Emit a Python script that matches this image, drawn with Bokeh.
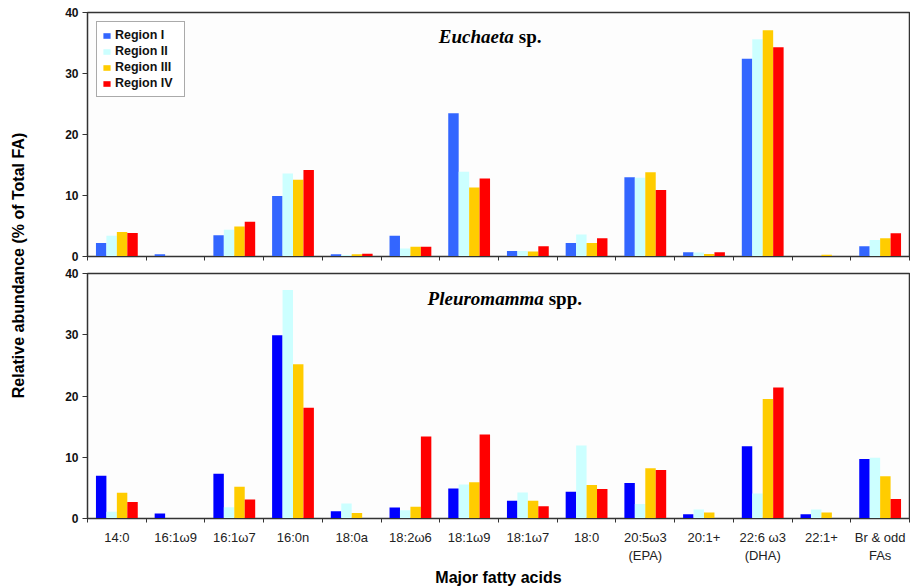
import math
import numpy as np
from bokeh.plotting import figure
from bokeh.layouts import row, column
from bokeh.models import (ColumnDataSource, Range1d, LinearAxis, FixedTicker, Label, Legend, LegendItem)
from bokeh.transform import dodge
from bokeh.embed import file_html
from bokeh.resources import INLINE

# ---------------- data ----------------
fatty_acids = ["14:0", "16:1\u03c99", "16:1\u03c97", "16:0n", "18:0a", "18:2\u03c96", "18:1\u03c99",
               "18:1\u03c97", "18:0", "20:5\u03c93\n(EPA)", "20:1+", "22:6 \u03c93\n(DHA)", "22:1+",
               "Br & odd\nFAs"]
regions = ["Region I", "Region II", "Region III", "Region IV"]

euch_r1 = [2.2, 0.35, 3.5, 9.9, 0.35, 3.4, 23.5, 0.9, 2.2, 13.0, 0.7, 32.4, 0.05, 1.7]
euch_r2 = [3.4, 0.05, 4.4, 13.6, 0.25, 1.3, 13.9, 0.9, 3.6, 12.9, 0.65, 35.6, 0.05, 2.7]
euch_r3 = [4.0, 0.08, 4.9, 12.6, 0.35, 1.6, 11.3, 0.8, 2.2, 13.8, 0.4, 37.1, 0.3, 3.0]
euch_r4 = [3.85, 0.08, 5.7, 14.2, 0.45, 1.6, 12.8, 1.7, 3.0, 10.9, 0.7, 34.3, 0.05, 3.8]

pleu_r1 = [7.0, 0.8, 7.3, 29.9, 1.2, 1.8, 4.9, 2.9, 4.35, 5.8, 0.7, 11.8, 0.7, 9.7]
pleu_r2 = [1.1, 0.0, 1.85, 37.3, 2.45, 1.35, 5.55, 4.25, 11.9, 2.35, 1.45, 4.1, 1.45, 9.9]
pleu_r3 = [4.2, 0.1, 5.2, 25.2, 0.9, 1.9, 5.9, 2.9, 5.45, 8.2, 1.0, 19.5, 1.0, 6.9]
pleu_r4 = [2.7, 0.1, 3.1, 18.1, 0.0, 13.4, 13.7, 2.0, 4.8, 7.9, 0.0, 21.4, 0.0, 3.2]

y_ticks = [0, 10, 20, 30, 40]

colors_top = ["#3366FF", "#CCFFFF", "#FFCC00", "#FF0000"]
colors_bot = ["#0000FF", "#CCFFFF", "#FFCC00", "#FF0000"]

FONT = "Liberation Sans"
SERIF = "Liberation Serif"
LEFT_W = 40
MAIN_W = 870
FRAME_LEFT = 47      # border left of frame inside main figure
BAR_W = 0.178
OFFS = [-0.267, -0.089, 0.089, 0.267]

N = len(fatty_acids)
centers = list(np.arange(N) + 0.5)
bounds = list(range(N + 1))


def make_panel(vals, colors, height, top_border, bottom_border, show_labels, title_a, title_b, title_split):
    src = ColumnDataSource(dict(xc=centers, r1=vals[0], r2=vals[1], r3=vals[2], r4=vals[3]))
    p = figure(x_range=Range1d(0, N), y_range=Range1d(0, 40),
               width=MAIN_W, height=height, output_backend="svg", toolbar_location=None,
               min_border_left=FRAME_LEFT, min_border_right=1,
               min_border_top=top_border, min_border_bottom=bottom_border,
               x_axis_location=None)
    renderers = []
    for k, key in enumerate(["r1", "r2", "r3", "r4"]):
        r = p.vbar(x=dodge("xc", OFFS[k]), top=key, bottom=0, width=BAR_W,
                   source=src, fill_color=colors[k], line_color=None)
        renderers.append(r)
    p.xgrid.visible = False
    p.ygrid.visible = False
    p.background_fill_color = "#FDFDFD"
    p.border_fill_color = "white"
    p.outline_line_color = "#333333"
    p.outline_line_width = 1.5

    yax = p.yaxis[0]
    yax.ticker = FixedTicker(ticks=y_ticks)
    yax.minor_tick_line_color = None
    yax.major_tick_out = 5
    yax.major_tick_in = 0
    yax.axis_line_color = "#333333"
    yax.major_tick_line_color = "#333333"
    yax.major_label_text_font = FONT
    yax.major_label_text_font_style = "bold"
    yax.major_label_text_font_size = "12px"
    yax.major_label_text_color = "#111111"
    yax.major_label_standoff = 4

    if show_labels:
        xax = LinearAxis(ticker=FixedTicker(ticks=centers, minor_ticks=bounds),
                         major_label_overrides={c: n for c, n in zip(centers, fatty_acids)})
        xax.major_label_text_font = FONT
        xax.major_label_text_font_size = "13px"
        xax.major_label_text_color = "#222222"
        xax.major_label_standoff = 7
        xax.axis_label = "Major fatty acids"
        xax.axis_label_text_font = FONT
        xax.axis_label_text_font_style = "bold"
        xax.axis_label_text_font_size = "16px"
        xax.axis_label_text_color = "black"
        xax.axis_label_standoff = 3
    else:
        xax = LinearAxis(ticker=FixedTicker(ticks=[], minor_ticks=bounds))
    xax.major_tick_line_color = None
    xax.major_tick_out = 0
    xax.major_tick_in = 0
    xax.minor_tick_out = 4
    xax.minor_tick_in = 0
    xax.minor_tick_line_color = "#333333"
    xax.axis_line_color = "#333333"
    p.add_layout(xax, "below")

    la = Label(x=title_split, y=36, text=title_a, text_align="right",
               text_baseline="alphabetic", text_font=SERIF, text_font_style="bold italic",
               text_font_size="19px", text_color="black")
    lb = Label(x=title_split, y=36, x_offset=5, text=title_b, text_align="left",
               text_baseline="alphabetic", text_font=SERIF, text_font_style="bold",
               text_font_size="19px", text_color="black")
    p.add_layout(la)
    p.add_layout(lb)
    return p, renderers


TOP_H = 266
BOT_H = 322
top, rtop = make_panel([euch_r1, euch_r2, euch_r3, euch_r4], colors_top, TOP_H, 12, 10, False,
                       "Euchaeta", "sp.", 7.26)
bot, _ = make_panel([pleu_r1, pleu_r2, pleu_r3, pleu_r4], colors_bot, BOT_H, 7, 70, True,
                    "Pleuromamma", "spp.", 7.77)

legend = Legend(items=[LegendItem(label=regions[k], renderers=[rtop[k]]) for k in range(4)],
                location="top_left")
legend.margin = 9
legend.padding = 5
legend.spacing = 0
legend.label_height = 16
legend.label_width = 64
legend.glyph_height = 7
legend.glyph_width = 9
legend.label_standoff = 4
legend.label_text_font = FONT
legend.label_text_font_style = "bold"
legend.label_text_font_size = "12.5px"
legend.label_text_color = "#111111"
legend.border_line_color = "#555555"
legend.border_line_width = 1
legend.background_fill_color = "white"
legend.background_fill_alpha = 1
top.add_layout(legend)

# left strip with the shared y-axis title
TOTAL_H = TOP_H + BOT_H
lab = figure(width=LEFT_W, height=TOTAL_H, output_backend="svg", toolbar_location=None,
             x_range=Range1d(0, 1), y_range=Range1d(0, 1), min_border=0)
lab.axis.visible = False
lab.grid.visible = False
lab.outline_line_color = None
lab.add_layout(Label(x=18, y=TOTAL_H - 265, x_units="screen", y_units="screen",
                     text="Relative abundance (% of Total FA)", angle=math.pi / 2,
                     text_align="center", text_baseline="middle", text_font=FONT,
                     text_font_style="bold", text_font_size="16px", text_color="black"))

layout = row(lab, column(top, bot))

open("out.html", "w").write(file_html(layout, INLINE))
